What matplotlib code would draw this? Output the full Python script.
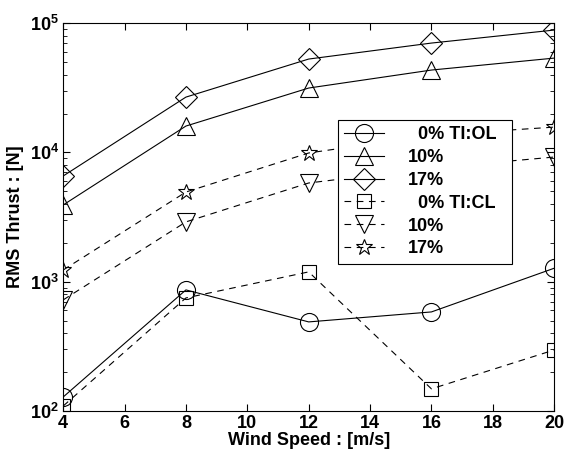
import numpy as np
import matplotlib
matplotlib.use("Agg")
import matplotlib.pyplot as plt

plt.rcParams['font.family'] = ['Liberation Sans', 'DejaVu Sans']
plt.rcParams['font.weight'] = 'bold'
plt.rcParams['mathtext.fontset'] = 'custom'
plt.rcParams['mathtext.rm'] = 'Liberation Sans:bold'
plt.rcParams['mathtext.it'] = 'Liberation Sans:bold'
plt.rcParams['mathtext.bf'] = 'Liberation Sans:bold'

# wind speed [m/s]
wind = [4, 8, 12, 16, 20]

# RMS thrust [N], open loop
ol_0 = [128, 863, 488, 583, 1270]
ol_10 = [3920, 16000, 31500, 43400, 53700]
ol_17 = [6570, 26800, 52800, 70200, 88500]
# closed loop
cl_0 = [109, 748, 1190, 148, 296]
cl_10 = [722, 2900, 5800, 7570, 9210]
cl_17 = [1230, 4940, 9900, 13600, 15700]

labels = ['  0% TI:OL  ', '10%', '17%', '  0% TI:CL', '10%', '17%']

fig = plt.figure(figsize=(5.69, 4.55), dpi=100)
ax = fig.add_axes([0.111, 0.097, 0.863, 0.852])

lw = 0.8
ax.plot(wind, ol_0, 'k-', marker='o', ms=13, mfc='none', mew=lw, lw=lw, label=labels[0])
ax.plot(wind, ol_10, 'k-', marker='^', ms=13, mfc='none', mew=lw, lw=lw, label=labels[1])
ax.plot(wind, ol_17, 'k-', marker='D', ms=11, mfc='none', mew=lw, lw=lw, label=labels[2])
ax.plot(wind, cl_0, 'k--', marker='s', ms=10, mfc='none', mew=lw, lw=lw, dashes=(6, 5), label=labels[3])
ax.plot(wind, cl_10, 'k--', marker='v', ms=13, mfc='none', mew=lw, lw=lw, dashes=(6, 5), label=labels[4])
ax.plot(wind, cl_17, 'k--', marker='*', ms=12, mfc='none', mew=lw, lw=lw, dashes=(6, 5), label=labels[5])

ax.set_yscale('log')
ax.set_xlim(4, 20)
ax.set_ylim(1e2, 1e5)
ax.set_xticks(np.arange(4, 21, 2))
ax.tick_params(which='both', direction='in', top=True, right=True, labelsize=13, pad=3)
ax.tick_params(which='major', length=5)
ax.tick_params(which='minor', length=3)
for sp in ax.spines.values():
    sp.set_linewidth(0.8)

ax.set_xlabel('Wind Speed : [m/s]', fontsize=13, fontweight='bold', labelpad=0)
ax.set_ylabel('RMS Thrust : [N]', fontsize=13, fontweight='bold', labelpad=4)

leg = ax.legend(loc='upper left', bbox_to_anchor=(0.56, 0.75), borderaxespad=0,
                fontsize=13, frameon=True, fancybox=False, edgecolor='black', framealpha=1,
                handlelength=2.2, labelspacing=0.32, borderpad=0.35, handletextpad=1.3)
leg.get_frame().set_linewidth(0.8)
leg.set_zorder(10)

fig.savefig('out.png', dpi=100)
